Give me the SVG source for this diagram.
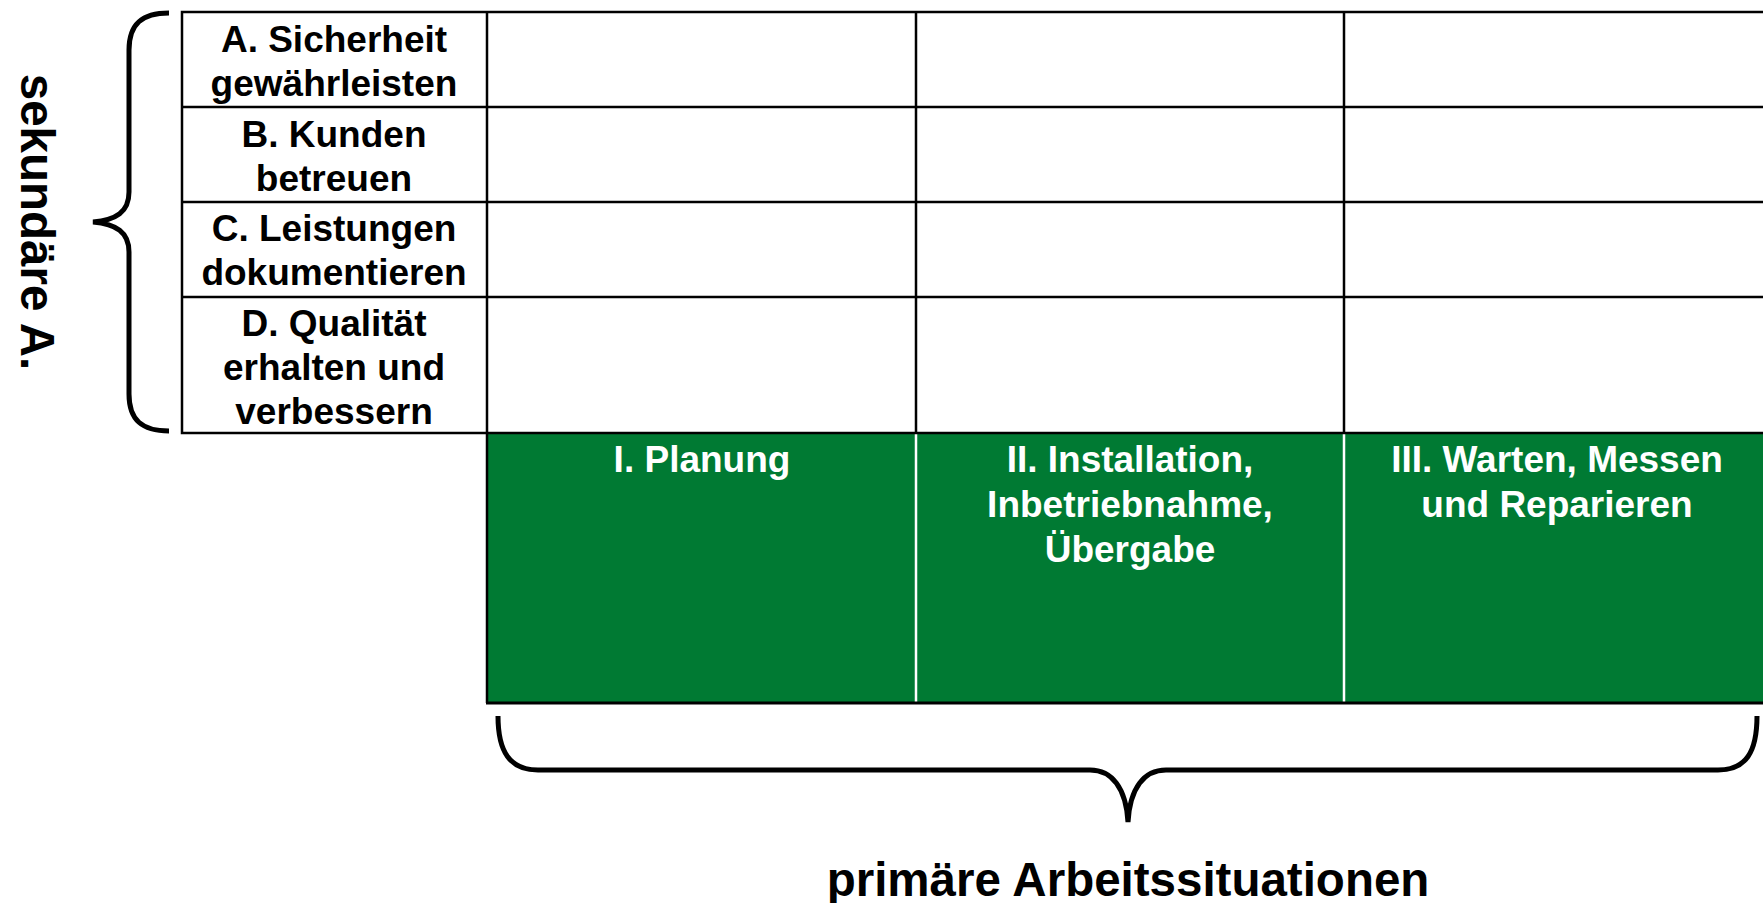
<svg xmlns="http://www.w3.org/2000/svg" width="1763" height="903" viewBox="0 0 1763 903">
<style>
.lbl{font-family:"Liberation Sans",Arial,sans-serif;font-weight:bold;font-size:37px;text-anchor:middle;fill:#000}
.wl{font-family:"Liberation Sans",Arial,sans-serif;font-weight:bold;font-size:37px;text-anchor:middle;fill:#fff}
.big{font-family:"Liberation Sans",Arial,sans-serif;font-weight:bold;font-size:47.5px;text-anchor:middle;fill:#000}
.grid{stroke:#000;stroke-width:2.5;fill:none}
.brace{stroke:#000;stroke-width:5;fill:none;stroke-linecap:butt}
</style>
<rect width="1763" height="903" fill="#fff"/>
<g id="green-area">
<rect x="487" y="433" width="1280" height="270" fill="#007A33"/>
<line x1="916" y1="433" x2="916" y2="703" stroke="#fff" stroke-width="2.5"/>
<line x1="1344" y1="433" x2="1344" y2="703" stroke="#fff" stroke-width="2.5"/>
<line x1="487" y1="433" x2="487" y2="703" stroke="#000" stroke-width="2.5"/>
<line x1="486" y1="703" x2="1763" y2="703" stroke="#000" stroke-width="3"/>
</g>
<g id="grid">
<rect class="grid" x="182" y="12" width="1590" height="421"/>
<line class="grid" x1="487" y1="12" x2="487" y2="433"/>
<line class="grid" x1="916" y1="12" x2="916" y2="433"/>
<line class="grid" x1="1344" y1="12" x2="1344" y2="433"/>
<line class="grid" x1="182" y1="107" x2="1763" y2="107"/>
<line class="grid" x1="182" y1="202" x2="1763" y2="202"/>
<line class="grid" x1="182" y1="297" x2="1763" y2="297"/>
</g>
<g id="row-A"><text class="lbl" x="334" y="52">A. Sicherheit</text><text class="lbl" x="334" y="96">gewährleisten</text></g>
<g id="row-B"><text class="lbl" x="334" y="147">B. Kunden</text><text class="lbl" x="334" y="191">betreuen</text></g>
<g id="row-C"><text class="lbl" x="334" y="241">C. Leistungen</text><text class="lbl" x="334" y="285">dokumentieren</text></g>
<g id="row-D"><text class="lbl" x="334" y="336">D. Qualität</text><text class="lbl" x="334" y="380">erhalten und</text><text class="lbl" x="334" y="424">verbessern</text></g>
<g id="col-I"><text class="wl" x="702" y="472">I. Planung</text></g>
<g id="col-II"><text class="wl" x="1130" y="472">II. Installation,</text><text class="wl" x="1130" y="517">Inbetriebnahme,</text><text class="wl" x="1130" y="562">Übergabe</text></g>
<g id="col-III"><text class="wl" x="1557" y="472">III. Warten, Messen</text><text class="wl" x="1557" y="517">und Reparieren</text></g>
<g id="braces">
<path class="brace" d="M 169 13 C 142 13 129 24 129 50 L 129 192 C 129 212 116 220 93 222 C 116 224 129 232 129 252 L 129 394 C 129 420 142 431 169 431"/>
<path class="brace" d="M 498 716 C 498 752 510 770 538 770 L 1090 770 C 1112 770 1126 788 1128 822 C 1130 788 1144 770 1166 770 L 1718 770 C 1746 770 1757 752 1757 716"/>
</g>
<g id="label-secondary"><text class="big" transform="translate(38 222) rotate(90)" x="0" y="17">sekundäre A.</text></g>
<g id="label-primary"><text class="big" x="1128" y="896">primäre Arbeitssituationen</text></g>
</svg>
